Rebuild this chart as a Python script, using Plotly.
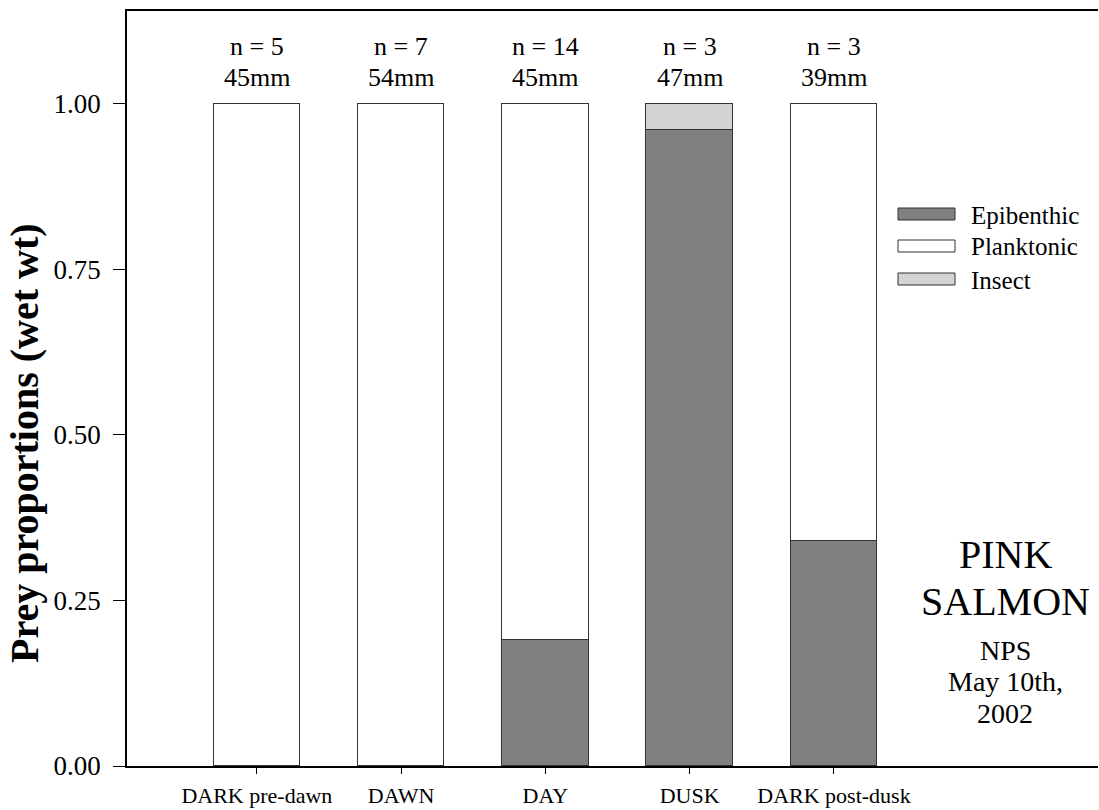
import plotly.graph_objects as go

categories = ["DARK pre-dawn", "DAWN", "DAY", "DUSK", "DARK post-dusk"]
epibenthic = [0.0, 0.0, 0.19, 0.96, 0.34]
planktonic = [1.0, 1.0, 0.81, 0.0, 0.66]
insect = [0.0, 0.0, 0.0, 0.04, 0.0]
n_fish = [5, 7, 14, 3, 3]
mean_len = ["45mm", "54mm", "45mm", "47mm", "39mm"]
series = [("Epibenthic", epibenthic, "#808080"),
          ("Planktonic", planktonic, "#ffffff"),
          ("Insect", insect, "#d3d3d3")]
y_ticks = [0.0, 0.25, 0.5, 0.75, 1.0]

FONT = "Liberation Serif, Times New Roman, serif"

fig = go.Figure()
for name, vals, col in series:
    fig.add_trace(go.Bar(x=categories, y=[v if v > 0 else None for v in vals], name=name,
                         width=0.6,
                         marker=dict(color=col, line=dict(color="#333333", width=1)),
                         showlegend=False))

totals = [a + b + c for a, b, c in zip(epibenthic, planktonic, insect)]
for cat, n, ln, tot in zip(categories, n_fish, mean_len, totals):
    fig.add_annotation(x=cat, y=tot, yanchor="middle", yshift=57, showarrow=False,
                       text=f"n = {n}", font=dict(family=FONT, size=26, color="black"))
    fig.add_annotation(x=cat, y=tot, yanchor="middle", yshift=26, showarrow=False,
                       text=ln, font=dict(family=FONT, size=26, color="black"))

# legend drawn manually (wide swatches)
W = 971.0
H = 755.0
def px(x):
    return (x - 127) / W
def py(y):
    return (766 - y) / H
leg_y = [214, 246, 279]
for (name, vals, col), yc in zip(series, leg_y):
    fig.add_shape(type="rect", xref="paper", yref="paper",
                  x0=px(898), x1=px(955), y0=py(yc + 6), y1=py(yc - 6),
                  fillcolor=col, line=dict(color="#333333", width=1))
    fig.add_annotation(xref="paper", yref="paper", x=px(969), y=py(yc + 1), xanchor="left",
                       yanchor="middle", showarrow=False, text=name,
                       font=dict(family=FONT, size=25, color="black"))

side_text = [("PINK", 40, 554), ("SALMON", 40, 601),
             ("NPS", 28, 650), ("May 10th,", 28, 681), ("2002", 28, 713)]
for txt, sz, yc in side_text:
    fig.add_annotation(xref="paper", yref="paper", x=px(1005), y=py(yc), showarrow=False,
                       text=txt, font=dict(family=FONT, size=sz, color="black"),
                       xanchor="center", yanchor="middle")

fig.add_annotation(xref="paper", yref="paper", x=px(24), y=py(443), showarrow=False,
                   text="<b>Prey proportions (wet wt)</b>", textangle=-90,
                   font=dict(family=FONT, size=40, color="black"),
                   xanchor="center", yanchor="middle")

fig.update_layout(
    width=1099, height=810,
    margin=dict(l=127, r=1, t=11, b=44, autoexpand=False),
    barmode="stack", bargap=0,
    plot_bgcolor="white", paper_bgcolor="white",
    font=dict(family=FONT, color="black"),
)
fig.update_xaxes(range=[-0.9, 5.83], showline=True, linecolor="black", linewidth=1.5,
                 mirror=True, ticks="outside", ticklen=6, tickcolor="black",
                 showgrid=False, ticklabelstandoff=3,
                 tickfont=dict(family=FONT, size=22, color="black"))
fig.update_yaxes(range=[0, 1.14], tickvals=y_ticks, ticktext=[f"{v:.2f}" for v in y_ticks],
                 showline=True, linecolor="black", linewidth=1.5, ticks="outside",
                 ticklen=12, tickcolor="black", showgrid=False, zeroline=False,
                 ticklabelstandoff=7,
                 tickfont=dict(family=FONT, size=27, color="black"))

fig.write_html("out.html", post_script="document.body.style.margin='0';",
               config={"displayModeBar": False})
